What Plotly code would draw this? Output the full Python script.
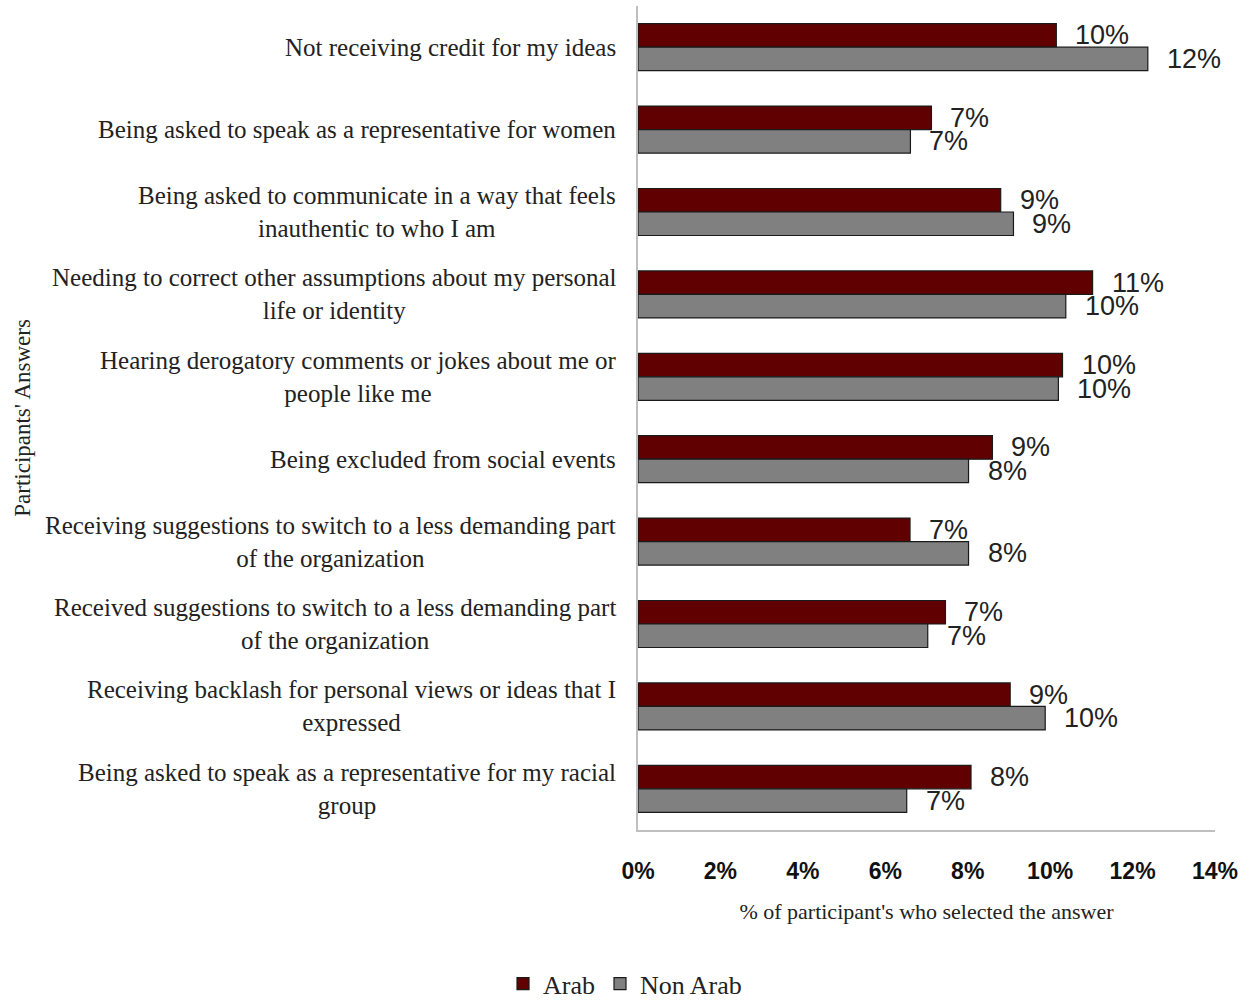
import plotly.graph_objects as go

categories = [
    "Not receiving credit for my ideas",
    "Being asked to speak as a representative for women",
    "Being asked to communicate in a way that feels<br>inauthentic to who I am",
    "Needing to correct other assumptions about my personal<br>life or identity",
    "Hearing derogatory comments or jokes about me or<br>people like me",
    "Being excluded from social events",
    "Receiving suggestions to switch to a less demanding part<br>of the organization",
    "Received suggestions to switch to a less demanding part<br>of the organization",
    "Receiving backlash for personal views or ideas that I<br>expressed",
    "Being asked to speak as a representative for my racial<br>group",
]
arab = [10.15, 7.12, 8.80, 11.03, 10.30, 8.60, 6.60, 7.46, 9.03, 8.08]
non_arab = [12.37, 6.61, 9.11, 10.38, 10.20, 8.02, 8.02, 7.03, 9.88, 6.52]
x_ticks = [0, 2, 4, 6, 8, 10, 12, 14]

ARAB_COLOR = "#600000"
NON_ARAB_COLOR = "#808080"
SERIF = "Liberation Serif, Times New Roman, serif"
SANS = "Liberation Sans, Arial, sans-serif"
CAT_SIZE = 25

fig = go.Figure()
fig.add_trace(go.Bar(
    name="Arab", y=categories, x=arab, orientation="h",
    marker=dict(color=ARAB_COLOR, line=dict(color="#1a1a1a", width=1.2)),
))
fig.add_trace(go.Bar(
    name="Non Arab", y=categories, x=non_arab, orientation="h",
    marker=dict(color=NON_ARAB_COLOR, line=dict(color="#1a1a1a", width=1.2)),
))

plot_h = 824
bargap = 0.43
bar_px = plot_h / len(categories) * (1 - bargap) / 2

annotations = []
for cat, a, n in zip(categories, arab, non_arab):
    for val, sh in ((a, bar_px / 2), (n, -bar_px / 2)):
        annotations.append(dict(
            x=val, y=cat, xref="x", yref="y", text=f"{round(val)}%",
            showarrow=False, xanchor="left", yanchor="middle",
            xshift=17, yshift=sh,
            font=dict(family=SANS, size=27, color="#222222"),
        ))
    annotations.append(dict(
        x=0, y=cat, xref="paper", yref="y", text=cat,
        showarrow=False, xanchor="right", yanchor="middle", align="center",
        xshift=-20, font=dict(family=SERIF, size=CAT_SIZE, color="#222222"),
    ))

annotations.append(dict(
    x=-1.068, y=0.5, xref="paper", yref="paper", text="Participants' Answers",
    textangle=-90, showarrow=False, xanchor="center", yanchor="middle",
    font=dict(family=SERIF, size=23, color="#222222"),
))

fig.update_layout(
    width=1250, height=1002,
    margin=dict(l=638, r=35, t=6, b=172, autoexpand=False),
    paper_bgcolor="white", plot_bgcolor="white",
    barmode="group", bargap=bargap, bargroupgap=0,
    showlegend=True,
    legend=dict(
        orientation="h", x=-0.0225, xanchor="center", y=-0.158, yanchor="top",
        font=dict(family=SERIF, size=26, color="#222222"),
        itemwidth=30, traceorder="normal",
    ),
    annotations=annotations,
    xaxis=dict(
        range=[0, 14], tickvals=x_ticks, ticktext=[f"{t}%" for t in x_ticks],
        showgrid=False, zeroline=False,
        showline=True, linecolor="#bfbfbf", linewidth=1.5,
        ticks="outside", ticklen=20, tickcolor="rgba(0,0,0,0)",
        tickfont=dict(family=SANS, size=23, color="#111111", weight="bold"),
        title=dict(text="% of participant's who selected the answer",
                   font=dict(family=SERIF, size=22, color="#222222"), standoff=20),
    ),
    yaxis=dict(
        autorange="reversed", showticklabels=False, showgrid=False,
        zeroline=False, showline=True, linecolor="#bfbfbf", linewidth=1.5,
        ticks="",
    ),
)

fig.write_html("out.html")
